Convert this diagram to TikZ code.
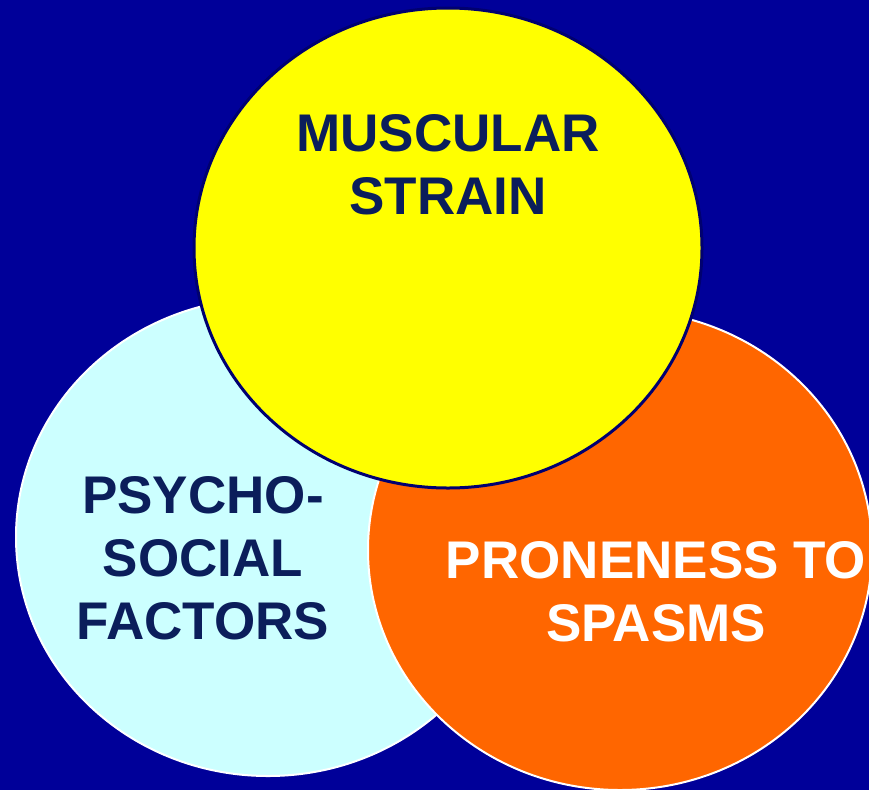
\documentclass[tikz,border=0pt]{standalone}
\usepackage{fontspec}
\setmainfont{Liberation Sans}
\usetikzlibrary{shapes.geometric}
\definecolor{bgblue}{HTML}{000099}
\definecolor{paleCyan}{HTML}{CCFFFF}
\definecolor{hotOrange}{HTML}{FF6600}
\definecolor{brightYellow}{HTML}{FFFF00}
\definecolor{rimNavy}{HTML}{000070}
\definecolor{inkNavy}{HTML}{0B1E5B}
\tikzset{
  blob/.style={ellipse, inner sep=0pt, line width=2pt, draw=white},
  label/.style={align=center, inner sep=0pt,
    font=\bfseries\fontsize{53}{63}\selectfont},
}
\begin{document}
\begin{tikzpicture}[x=1pt, y=-1pt]
  \useasboundingbox (0,0) rectangle (869,790);
  \fill[bgblue] (0,0) rectangle (869,790);

  % three overlapping factors
  \node[blob, fill=paleCyan, minimum width=504pt, minimum height=478pt]
    (psycho) at (268,537) {};
  \node[blob, fill=hotOrange, minimum width=504pt, minimum height=480pt]
    (spasm) at (620,550) {};
  \node[blob, fill=brightYellow, draw=rimNavy, line width=3pt,
    minimum width=508pt, minimum height=480pt] (strain) at (448,248) {};

  % captions
  \node[label, text=inkNavy] (strainText) at (448,164.5) {MUSCULAR\\STRAIN};
  \node[label, text=inkNavy] (psychoText) at (203,558.5) {PSYCHO-\\SOCIAL\\FACTORS};
  \node[label, text=white] (spasmText) at (656,591.5) {PRONENESS TO\\SPASMS};
\end{tikzpicture}
\end{document}
